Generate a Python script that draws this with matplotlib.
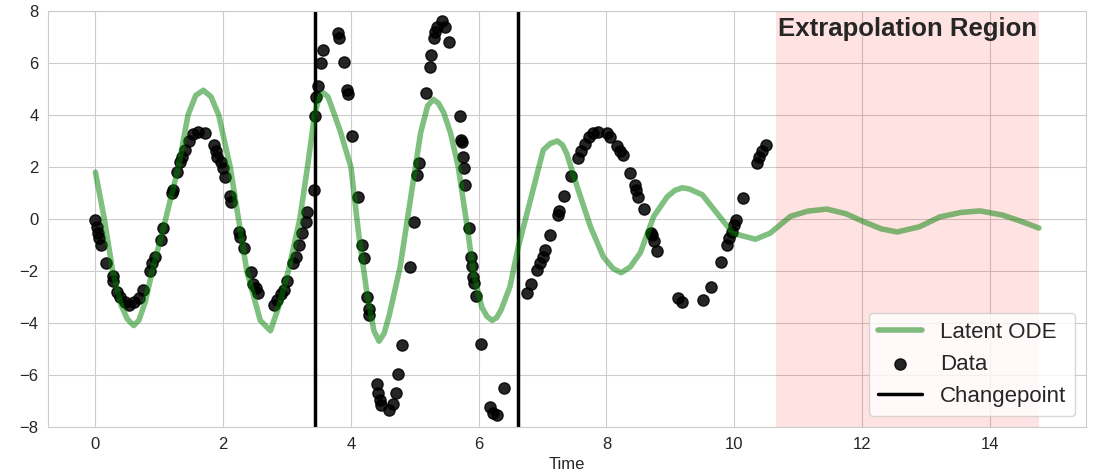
import matplotlib

matplotlib.use("Agg")
import matplotlib.pyplot as plt
import seaborn as sns

# observed data (time, value)
data_t = [0.0, 0.02, 0.04, 0.06, 0.09, 0.17, 0.27, 0.28, 0.34, 0.39, 0.47, 0.52, 0.6, 0.68,
          0.75, 0.86, 0.89, 0.94, 1.02, 1.06, 1.2, 1.22, 1.28, 1.33, 1.36, 1.41, 1.46, 1.53,
          1.6, 1.72, 1.85, 1.88, 1.91, 1.96, 2.0, 2.03, 2.1, 2.13, 2.24, 2.27, 2.32, 2.43,
          2.47, 2.52, 2.55, 2.79, 2.84, 2.9, 2.95, 3.0, 3.1, 3.14, 3.18, 3.24, 3.29, 3.32,
          3.42, 3.43, 3.46, 3.49, 3.53, 3.56, 3.8, 3.82, 3.89, 3.94, 3.96, 4.02, 4.11, 4.17,
          4.2, 4.25, 4.28, 4.29, 4.41, 4.43, 4.46, 4.47, 4.6, 4.66, 4.7, 4.74, 4.8, 4.92,
          4.99, 5.04, 5.06, 5.17, 5.23, 5.26, 5.3, 5.32, 5.35, 5.43, 5.48, 5.54, 5.7, 5.72,
          5.74, 5.76, 5.77, 5.79, 5.85, 5.88, 5.9, 5.91, 5.93, 5.95, 6.03, 6.17, 6.23, 6.28,
          6.4, 6.75, 6.82, 6.92, 6.96, 7.01, 7.04, 7.12, 7.24, 7.26, 7.33, 7.45, 7.56, 7.6,
          7.66, 7.73, 7.79, 7.87, 8.01, 8.06, 8.17, 8.21, 8.26, 8.37, 8.44, 8.47, 8.5, 8.58,
          8.69, 8.72, 8.75, 8.79, 9.12, 9.18, 9.51, 9.64, 9.8, 9.89, 9.92, 9.96, 10.0, 10.03,
          10.14, 10.35, 10.38, 10.44, 10.49]
data_y = [-0.05, -0.3, -0.55, -0.75, -1.0, -1.7, -2.2, -2.4, -2.8, -3.0, -3.2, -3.3, -3.2, -3.05,
          -2.75, -2.0, -1.7, -1.45, -0.8, -0.35, 1.0, 1.1, 1.8, 2.2, 2.4, 2.65, 3.0, 3.25,
          3.35, 3.3, 2.85, 2.6, 2.4, 2.2, 1.95, 1.6, 0.9, 0.65, -0.5, -0.7, -1.1, -2.05,
          -2.5, -2.65, -2.85, -3.3, -3.1, -2.9, -2.75, -2.4, -1.7, -1.45, -1.0, -0.55, -0.1, 0.25,
          1.1, 3.95, 4.7, 5.1, 6.0, 6.5, 7.15, 6.95, 6.05, 4.95, 4.8, 3.2, 0.85, -1.0,
          -1.5, -3.0, -3.45, -3.7, -6.35, -6.7, -6.95, -7.15, -7.35, -7.1, -6.7, -5.95, -4.85, -1.85,
          -0.1, 1.7, 2.15, 4.85, 5.85, 6.3, 6.95, 7.2, 7.4, 7.6, 7.4, 6.8, 3.95, 3.05,
          2.95, 2.4, 1.95, 1.3, -0.35, -1.45, -1.8, -2.25, -2.45, -2.95, -4.8, -7.25, -7.45, -7.55,
          -6.5, -2.85, -2.5, -1.95, -1.7, -1.45, -1.2, -0.6, 0.15, 0.3, 0.9, 1.65, 2.35, 2.6,
          2.9, 3.15, 3.3, 3.35, 3.3, 3.15, 2.8, 2.6, 2.45, 1.75, 1.3, 1.1, 0.85, 0.4,
          -0.55, -0.6, -0.85, -1.25, -3.05, -3.2, -3.1, -2.6, -1.65, -1.0, -0.75, -0.5, -0.25, -0.05,
          0.8, 2.15, 2.4, 2.6, 2.85]

# latent ODE trajectory
ode_t = [0.0, 0.14, 0.27, 0.4, 0.5, 0.6, 0.68, 0.78, 0.89, 1.1, 1.3, 1.45, 1.57, 1.69, 1.81,
         1.93, 2.11, 2.24, 2.37, 2.58, 2.74, 2.88, 3.02, 3.2, 3.32, 3.43, 3.5, 3.57, 3.64,
         3.7, 3.83, 4.0, 4.12, 4.25, 4.36, 4.44, 4.52, 4.6, 4.77, 4.93, 5.09, 5.2, 5.29,
         5.37, 5.45, 5.56, 5.68, 5.82, 5.92, 6.05, 6.13, 6.21, 6.28, 6.35, 6.49, 6.62, 6.81,
         7.01, 7.12, 7.23, 7.31, 7.38, 7.54, 7.75, 7.95, 8.1, 8.23, 8.37, 8.53, 8.74, 8.95,
         9.07, 9.19, 9.3, 9.5, 9.73, 9.98, 10.33, 10.56, 10.88, 11.15, 11.45, 11.75, 12.02,
         12.3, 12.55, 12.9, 13.22, 13.55, 13.85, 14.2, 14.5, 14.77]
ode_y = [1.8, 0.0, -2.0, -3.3, -3.85, -4.1, -3.9, -3.2, -2.0, 0.0, 2.0, 4.0, 4.75, 4.95, 4.7,
         4.0, 2.0, 0.0, -2.0, -3.9, -4.3, -3.3, -2.0, 0.0, 2.0, 4.0, 4.65, 4.85, 4.7,
         4.3, 3.4, 2.0, -0.55, -2.85, -4.3, -4.7, -4.4, -3.7, -1.85, 0.73, 3.3, 4.35, 4.6,
         4.45, 4.1, 3.3, 2.0, -0.3, -2.1, -3.4, -3.75, -3.9, -3.8, -3.5, -2.6, -1.07, 0.73,
         2.65, 2.9, 3.0, 2.85, 2.5, 1.25, -0.3, -1.45, -1.9, -2.07, -1.85, -1.3, 0.1, 0.85,
         1.1, 1.2, 1.15, 0.93, 0.22, -0.55, -0.78, -0.55, 0.1, 0.3, 0.38, 0.2, -0.1,
         -0.38, -0.5, -0.3, 0.08, 0.25, 0.31, 0.15, -0.1, -0.35]

changepoints = [3.44, 6.62]
extrap_start, extrap_end = 10.66, 14.77

sns.set_style("whitegrid")
plt.rcParams["font.family"] = ["Liberation Sans", "DejaVu Sans"]

fig, ax = plt.subplots(figsize=(10.96, 4.76), dpi=100)
fig.subplots_adjust(left=0.044, right=0.991, top=0.977, bottom=0.103)

ax.scatter(data_t, data_y, s=65, color="black", alpha=0.85, label="Data", zorder=2)
ax.plot(ode_t, ode_y, color="green", alpha=0.5, lw=4, label="Latent ODE", zorder=3)
for i, cp in enumerate(changepoints):
    ax.axvline(cp, color="black", lw=2.5, label="Changepoint" if i == 0 else None, zorder=2)
ax.axvspan(extrap_start, extrap_end, color="red", alpha=0.11, lw=0, zorder=1)
ax.text((extrap_start + extrap_end) / 2, 7.3, "Extrapolation Region", ha="center", va="center",
        fontsize=18.5, fontweight="bold", color="#262626")

ax.set_ylim(-8, 8)
ax.set_xlabel("Time", fontsize=12, labelpad=4)
ax.tick_params(labelsize=12)

handles, labels = ax.get_legend_handles_labels()
order = [labels.index(k) for k in ["Latent ODE", "Data", "Changepoint"]]
ax.legend([handles[i] for i in order], [labels[i] for i in order], loc="lower right",
          fontsize=16, frameon=True, framealpha=0.8)

fig.savefig("out.png", dpi=100)
